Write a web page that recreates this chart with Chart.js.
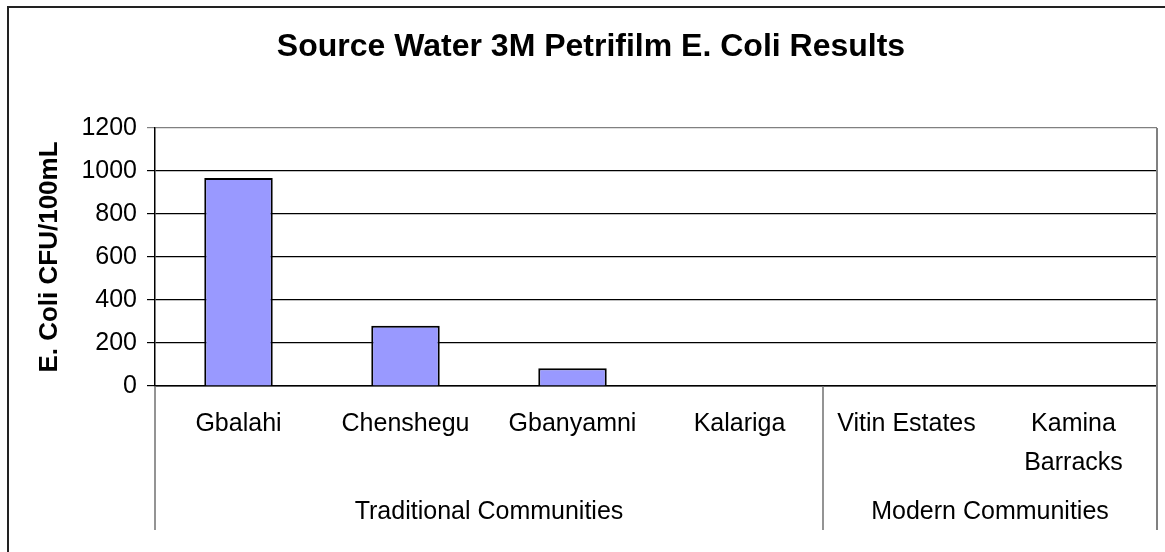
<html>
  <head>
    <script src="https://cdn.jsdelivr.net/npm/chart.js@4/dist/chart.umd.min.js"></script>
    <style>
      html,
      body {
        margin: 0;
        padding: 0;
        background: #fff;
      }
      #ecoliChart {
        display: block;
      }
    </style>
  </head>
  <body>
    <canvas id="ecoliChart" width="1165" height="552"></canvas>

    <script>
      const chartTitle = "Source Water 3M Petrifilm E. Coli Results";
      const yTitle = "E. Coli CFU/100mL";
      const sites = ["Gbalahi", "Chenshegu", "Gbanyamni", "Kalariga", "Vitin Estates", ["Kamina", "Barracks"]];
      const ecoliCounts = [968, 280, 83, 0, 0, 0];
      const groups = ["Traditional Communities", "Modern Communities"];
      const groupSizes = [4, 2];
      const yTicks = [0, 200, 400, 600, 800, 1000, 1200];

      const FONT = '"Liberation Sans", Arial, Helvetica, sans-serif';

      // frame, title, plot border and the second row of the category axis
      const decorPlugin = {
        id: "decor",
        beforeDraw(chart) {
          const ctx = chart.ctx;
          ctx.save();
          ctx.fillStyle = "#fff";
          ctx.fillRect(0, 0, chart.width, chart.height);
          ctx.restore();
        },
        afterDraw(chart) {
          const ctx = chart.ctx;
          const area = chart.chartArea;
          const x = chart.scales.x;
          const n = sites.length;

          ctx.save();
          // outer chart frame (only top and left visible in the picture)
          ctx.strokeStyle = "#222";
          ctx.lineWidth = 2;
          ctx.beginPath();
          ctx.moveTo(8, chart.height);
          ctx.lineTo(8, 7);
          ctx.lineTo(chart.width, 7);
          ctx.stroke();

          // title
          ctx.fillStyle = "#000";
          ctx.font = "bold 32px " + FONT;
          ctx.textAlign = "center";
          ctx.textBaseline = "middle";
          ctx.fillText(chartTitle, 591, 47);

          // right plot border
          const groupBottom = area.bottom + 144;
          ctx.strokeStyle = "#808080";
          ctx.lineWidth = 2;
          ctx.beginPath();
          ctx.moveTo(area.right, area.top);
          ctx.lineTo(area.right, groupBottom);
          ctx.stroke();

          const edge = function (i) {
            if (i <= 0) return area.left;
            if (i >= n) return area.right;
            return (x.getPixelForTick(i - 1) + x.getPixelForTick(i)) / 2;
          };

          // group separators and labels
          ctx.font = "25px " + FONT;
          let start = 0;
          groups.forEach(function (g, gi) {
            const x0 = edge(start);
            const x1 = edge(start + groupSizes[gi]);
            ctx.strokeStyle = "#707070";
            ctx.lineWidth = 1.5;
            ctx.beginPath();
            ctx.moveTo(x0, area.bottom);
            ctx.lineTo(x0, groupBottom);
            ctx.stroke();
            ctx.fillStyle = "#000";
            ctx.fillText(g, (x0 + x1) / 2, area.bottom + 126);
            start += groupSizes[gi];
          });
          ctx.restore();
        },
      };

      const ctx = document.getElementById("ecoliChart").getContext("2d");
      const ecoliChart = new Chart(ctx, {
        type: "bar",
        data: {
          labels: sites,
          datasets: [
            {
              label: "E. Coli",
              data: ecoliCounts,
              backgroundColor: "#9999FF",
              borderColor: "#000",
              borderWidth: 2,
              barPercentage: 0.41,
              categoryPercentage: 1,
            },
          ],
        },
        options: {
          responsive: false,
          animation: false,
          layout: {
            padding: { left: 0, right: 8, top: 128, bottom: 0 },
          },
          plugins: {
            legend: { display: false },
            tooltip: { enabled: false },
            title: { display: false },
          },
          scales: {
            x: {
              grid: { display: false, drawTicks: false },
              border: { display: true, color: "#000", width: 1.5 },
              ticks: {
                autoSkip: false,
                maxRotation: 0,
                minRotation: 0,
                padding: 19,
                color: "#000",
                font: { family: FONT, size: 25, lineHeight: 1.55 },
              },
              afterFit: function (scale) {
                scale.height = 166;
              },
            },
            y: {
              min: 0,
              max: 1200,
              afterBuildTicks: function (scale) {
                scale.ticks = yTicks.map(function (v) {
                  return { value: v };
                });
              },
              grid: {
                color: function (c) {
                  return c.tick && c.tick.value === 1200 ? "#808080" : "#000";
                },
                lineWidth: 1.2,
                tickLength: 8,
              },
              border: { display: true, color: "#000", width: 1.5 },
              ticks: {
                padding: 10,
                color: "#000",
                font: { family: FONT, size: 25 },
                callback: function (value) {
                  return String(value);
                },
              },
              title: {
                display: true,
                text: yTitle,
                color: "#000",
                font: { family: FONT, size: 26, weight: "bold" },
                padding: { top: 34, bottom: 0 },
              },
              afterFit: function (scale) {
                scale.width = 155;
              },
            },
          },
        },
        plugins: [decorPlugin],
      });
    </script>
  </body>
</html>
